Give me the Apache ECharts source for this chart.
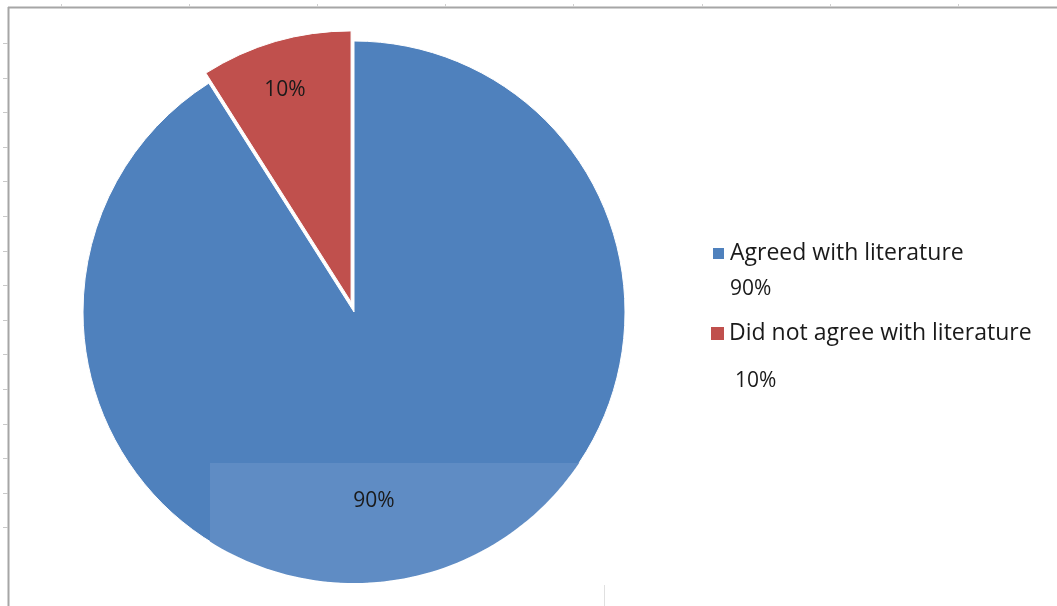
<!DOCTYPE html>
<html><head><meta charset="utf-8">
<script src="https://cdn.jsdelivr.net/npm/echarts@6/dist/echarts.min.js"></script>
<style>html,body{margin:0;padding:0;background:#fff}#c{width:1057px;height:606px}</style>
</head><body><div id="c"></div>
<script>
// ---- data ----
const categories = ['Agreed with literature', 'Did not agree with literature'];
const values = [91, 9];               // slice sizes as drawn in the picture
const percentLabels = ['90%', '10%']; // text shown on the chart
const colors = ['#4F81BD', '#C0504D'];

// ---- layout constants ----
const CX = 354, CY = 312, R = 271;
const EXPLODE = 10.5;                 // offset of the detached slice
const FONT = '"Open Sans", "Noto Sans", sans-serif';
// label placement as (fraction of radius, angle clockwise from top in deg)
const labelPolar = [[0.70, 174], [0.858, -17.3]];

const chart = echarts.init(document.getElementById('c'), null, {renderer: 'canvas'});

// offset of exploded slice along its bisector
const total = values.reduce((a, b) => a + b, 0);
const bisDeg = -360 * values[1] / total / 2;
const bis = bisDeg * Math.PI / 180;
const EX = EXPLODE * Math.sin(bis), EY = -EXPLODE * Math.cos(bis);

// light overlay region (rectangle clipped to pie)
function overlayPoints() {
  const yTop = 463, xLeft = 210;
  const pts = [[xLeft, yTop]];
  const a1 = Math.asin((yTop - CY) / R);
  const a2 = Math.acos((xLeft - CX) / R);
  const n = 60;
  for (let i = 0; i <= n; i++) {
    const a = a1 + (a2 - a1) * i / n;
    pts.push([CX + R * Math.cos(a), CY + R * Math.sin(a)]);
  }
  return pts;
}

const deco = [];
deco.push({type: 'line', z: 0, shape: {x1: 8, y1: 7.5, x2: 1057, y2: 7.5}, style: {stroke: '#a6a6a6', lineWidth: 2}, silent: true});
deco.push({type: 'line', z: 0, shape: {x1: 8.5, y1: 7, x2: 8.5, y2: 606}, style: {stroke: '#a6a6a6', lineWidth: 2}, silent: true});
for (let k = 0; k < 15; k++) {
  const y = Math.round(43 + 34.6 * k) + 0.5;
  deco.push({type: 'line', z: 0, shape: {x1: 3, y1: y, x2: 8, y2: y}, style: {stroke: '#c8c8c8', lineWidth: 1}, silent: true});
}
for (let k = 0; k < 8; k++) {
  const x = Math.round(61 + 128.1 * k) + 0.5;
  deco.push({type: 'line', z: 0, shape: {x1: x, y1: 4, x2: x, y2: 7}, style: {stroke: '#d0d0d0', lineWidth: 1}, silent: true});
}
deco.push({type: 'line', z: 0, shape: {x1: 604.5, y1: 585, x2: 604.5, y2: 606}, style: {stroke: '#e0e0e0', lineWidth: 1}, silent: true});
deco.push({type: 'polygon', z: 2, silent: true, shape: {points: overlayPoints()}, style: {fill: '#5f8cc4'}});

const legendRich = {
  s0: {lineHeight: 36, fontSize: 21, fontFamily: FONT},
  s1: {lineHeight: 60, fontSize: 21, fontFamily: FONT},
  n: {lineHeight: 36, fontSize: 23, fontFamily: FONT, color: '#1a1a1a'},
  p0: {lineHeight: 36, fontSize: 21, fontFamily: FONT, color: '#1a1a1a'},
  p1: {lineHeight: 60, fontSize: 21, fontFamily: FONT, color: '#1a1a1a', padding: [0, 0, 0, 6]}
};
const legendTops = [207, 275];

const labelLayout = (params) => {
  const [f, deg] = labelPolar[params.dataIndex];
  const a = deg * Math.PI / 180;
  return {x: CX + f * R * Math.sin(a), y: CY - f * R * Math.cos(a), align: 'center', verticalAlign: 'middle'};
};
const hidden = {color: 'rgba(0,0,0,0)', borderWidth: 0};

const option = {
  backgroundColor: '#ffffff',
  animation: false,
  color: colors,
  graphic: deco,
  legend: categories.map((name, i) => ({
    data: [{name, itemStyle: {color: colors[i]}}],
    orient: 'vertical',
    left: 711,
    top: legendTops[i],
    padding: 0,
    icon: 'rect',
    itemWidth: 13,
    itemHeight: 13,
    selectedMode: false,
    textStyle: {fontFamily: FONT, fontSize: 23, color: '#1a1a1a', rich: legendRich},
    formatter: () => `{s${i}| }\n{n|${name}}\n{p${i}|${percentLabels[i]}}`
  })),
  series: [{
    // main body: the large slice
    type: 'pie', z: 1,
    center: [CX, CY], radius: R,
    startAngle: 90, clockwise: true,
    selectedMode: false, silent: true,
    emphasis: {disabled: true},
    itemStyle: {borderColor: '#ffffff', borderWidth: 1},
    label: {show: false}, labelLine: {show: false},
    data: categories.map((name, i) => ({
      name, value: values[i],
      itemStyle: i === 0 ? {color: colors[0]} : hidden
    }))
  }, {
    // exploded small slice, plus all slice labels
    type: 'pie', z: 3,
    center: [CX + EX, CY + EY], radius: R,
    startAngle: 90, clockwise: true,
    selectedMode: false, silent: true,
    emphasis: {disabled: true},
    avoidLabelOverlap: false,
    itemStyle: {borderColor: '#ffffff', borderWidth: 1},
    label: {
      show: true, position: 'inside',
      formatter: (p) => percentLabels[p.dataIndex],
      fontFamily: FONT, fontSize: 21, color: '#1a1a1a'
    },
    labelLine: {show: false},
    labelLayout,
    data: categories.map((name, i) => ({
      name, value: values[i],
      itemStyle: i === 1 ? {color: colors[1]} : hidden
    }))
  }]
};
chart.setOption(option);
</script>
</body></html>
